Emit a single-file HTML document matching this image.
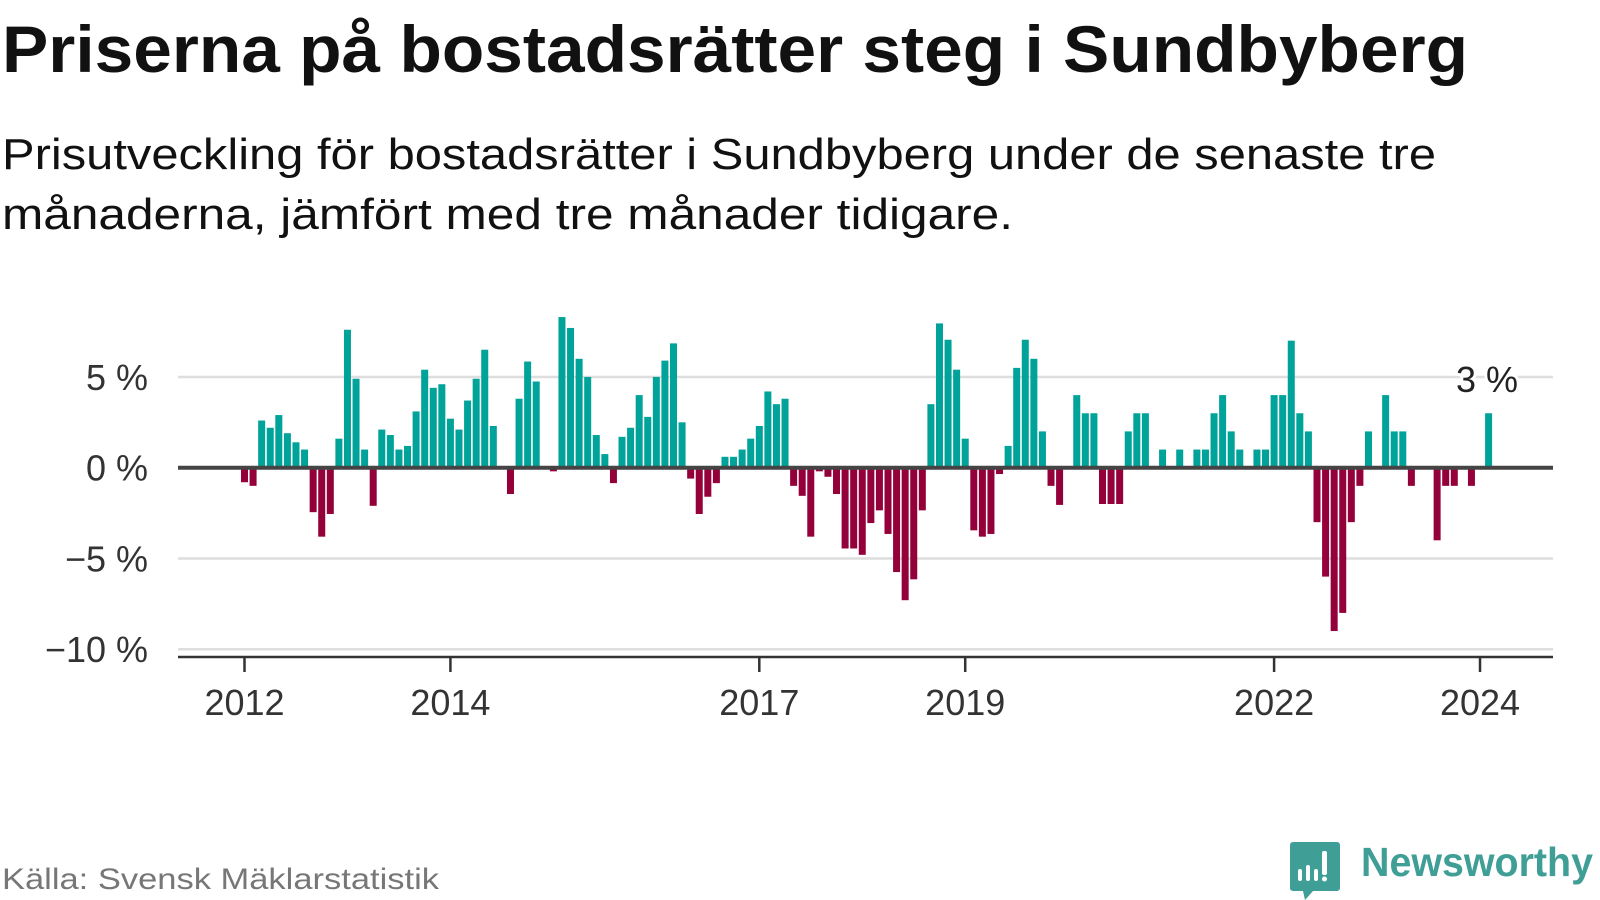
<!DOCTYPE html>
<html><head><meta charset="utf-8">
<style>
html,body{margin:0;padding:0;background:#fff;}
svg{display:block;font-family:"Liberation Sans",sans-serif;}
</style></head>
<body>
<svg id="chart" width="1600" height="900" viewBox="0 0 1600 900" xmlns="http://www.w3.org/2000/svg">
  <text x="2" y="72" font-size="66" font-weight="bold" fill="#111" textLength="1466" lengthAdjust="spacingAndGlyphs">Priserna på bostadsrätter steg i Sundbyberg</text>
  <text x="2" y="169" font-size="44" fill="#111" textLength="1434" lengthAdjust="spacingAndGlyphs">Prisutveckling för bostadsrätter i Sundbyberg under de senaste tre</text>
  <text x="2" y="229" font-size="44" fill="#111" textLength="1011" lengthAdjust="spacingAndGlyphs">månaderna, jämfört med tre månader tidigare.</text>
  <g id="grid"></g>
  <g id="bars"></g>
  <g id="axes"></g>
  <text x="2" y="889" font-size="30" fill="#777" textLength="437" lengthAdjust="spacingAndGlyphs">Källa: Svensk Mäklarstatistik</text>
  <g>
    <path d="M1293,842 h44 a3,3 0 0 1 3,3 v43 a3,3 0 0 1 -3,3 h-24 l-8,9 l-2,-9 h-10 a3,3 0 0 1 -3,-3 v-43 a3,3 0 0 1 3,-3z" fill="#3f9e96"/>
    <rect x="1298" y="869" width="4" height="12" rx="2" fill="#fff"/>
    <rect x="1306" y="865" width="4" height="16" rx="2" fill="#fff"/>
    <rect x="1314" y="869" width="4" height="12" rx="2" fill="#fff"/>
    <rect x="1322" y="851" width="5" height="24" rx="2" fill="#fff"/>
    <circle cx="1324.5" cy="879" r="2.5" fill="#fff"/>
    <text x="1361" y="876" font-size="41" font-weight="bold" fill="#3f9e96" textLength="232" lengthAdjust="spacingAndGlyphs">Newsworthy</text>
  </g>
</svg>
<script>
const values = [-0.8,-1.0,2.6,2.2,2.9,1.9,1.4,1.0,-2.45,-3.8,-2.55,1.6,
7.6,4.9,1.0,-2.1,2.1,1.8,1.0,1.2,3.1,5.4,4.4,4.6,
2.7,2.1,3.7,4.9,6.5,2.3,0,-1.45,3.8,5.85,4.75,0,
-0.2,8.3,7.7,6.0,5.0,1.8,0.75,-0.85,1.7,2.2,4.0,2.8,
5.0,5.9,6.85,2.5,-0.6,-2.55,-1.6,-0.85,0.6,0.6,1.0,1.6,
2.3,4.2,3.5,3.8,-1.0,-1.55,-3.8,-0.2,-0.5,-1.45,-4.45,-4.45,
-4.8,-3.05,-2.35,-3.65,-5.75,-7.3,-6.15,-2.35,3.5,7.95,7.05,5.4,
1.6,-3.45,-3.8,-3.65,-0.35,1.2,5.5,7.05,6.0,2.0,-1.0,-2.05,
0,4.0,3.0,3.0,-2,-2,-2,2,3,3,0,1,
0,1,0,1,1,3,4,2,1,0,1,1,
4,4,7,3,2,-3,-6,-9,-8,-3,-1,2,
0,4,2,2,-1,0,0,-4,-1,-1,0,-1,
0,3];
const startYear = 2012;
const yTicks = [5,0,-5,-10];
const yTickLabels = ["5 %","0 %","\u22125 %","\u221210 %"];
const xTickYears = [2012,2014,2017,2019,2022,2024];
const lastLabel = "3 %";

const NS="http://www.w3.org/2000/svg";
const x0=244.5, pitch=8.58, zeroY=467.7, pxPer=18.15;
function xScale(i){return x0+i*pitch;}
function yScale(v){return zeroY - v*pxPer;}
function mk(tag,attrs,parent){const e=document.createElementNS(NS,tag);for(const k in attrs)e.setAttribute(k,attrs[k]);parent.appendChild(e);return e;}
const grid=document.getElementById('grid'), bars=document.getElementById('bars'), axes=document.getElementById('axes');

yTicks.forEach((t,i)=>{
  if(t!==0){
    const l=mk('line',{x1:178,x2:1553,y1:yScale(t),y2:yScale(t),stroke:'#dedede','stroke-width':2.5},grid);
    
    
  }
  const tx=mk('text',{x:148,y:yScale(t)+13,'font-size':36,fill:'#333','text-anchor':'end'},axes);
  tx.textContent=yTickLabels[i];
  
  
});

values.forEach((v,i)=>{
  if(v===0) return;
  const y=yScale(Math.max(v,0)), h=Math.abs(v)*pxPer;
  const r=mk('rect',{x:xScale(i)-3.5,y:y,width:7,height:h,fill:v>0?'#00a39a':'#940039'},bars);
  
  
});

const zl=mk('line',{x1:178,x2:1553,y1:zeroY,y2:zeroY,stroke:'#444','stroke-width':4},axes);


const xa=mk('line',{x1:178,x2:1553,y1:657,y2:657,stroke:'#333','stroke-width':2.5},axes);


xTickYears.forEach(yr=>{
  const x=xScale((yr-startYear)*12);
  const t=mk('line',{x1:x,x2:x,y1:657,y2:672,stroke:'#333','stroke-width':2.5},axes);
  
  
  const tx=mk('text',{x:x,y:715,'font-size':36,fill:'#333','text-anchor':'middle'},axes);
  tx.textContent=String(yr);
  
  
});

const li=values.length-1;
const lbl=mk('text',{x:1518,y:392,'font-size':36,fill:'#222','text-anchor':'end',stroke:'#fff','stroke-width':6,'paint-order':'stroke'},axes);
lbl.textContent=lastLabel;


</script>
</body></html>
